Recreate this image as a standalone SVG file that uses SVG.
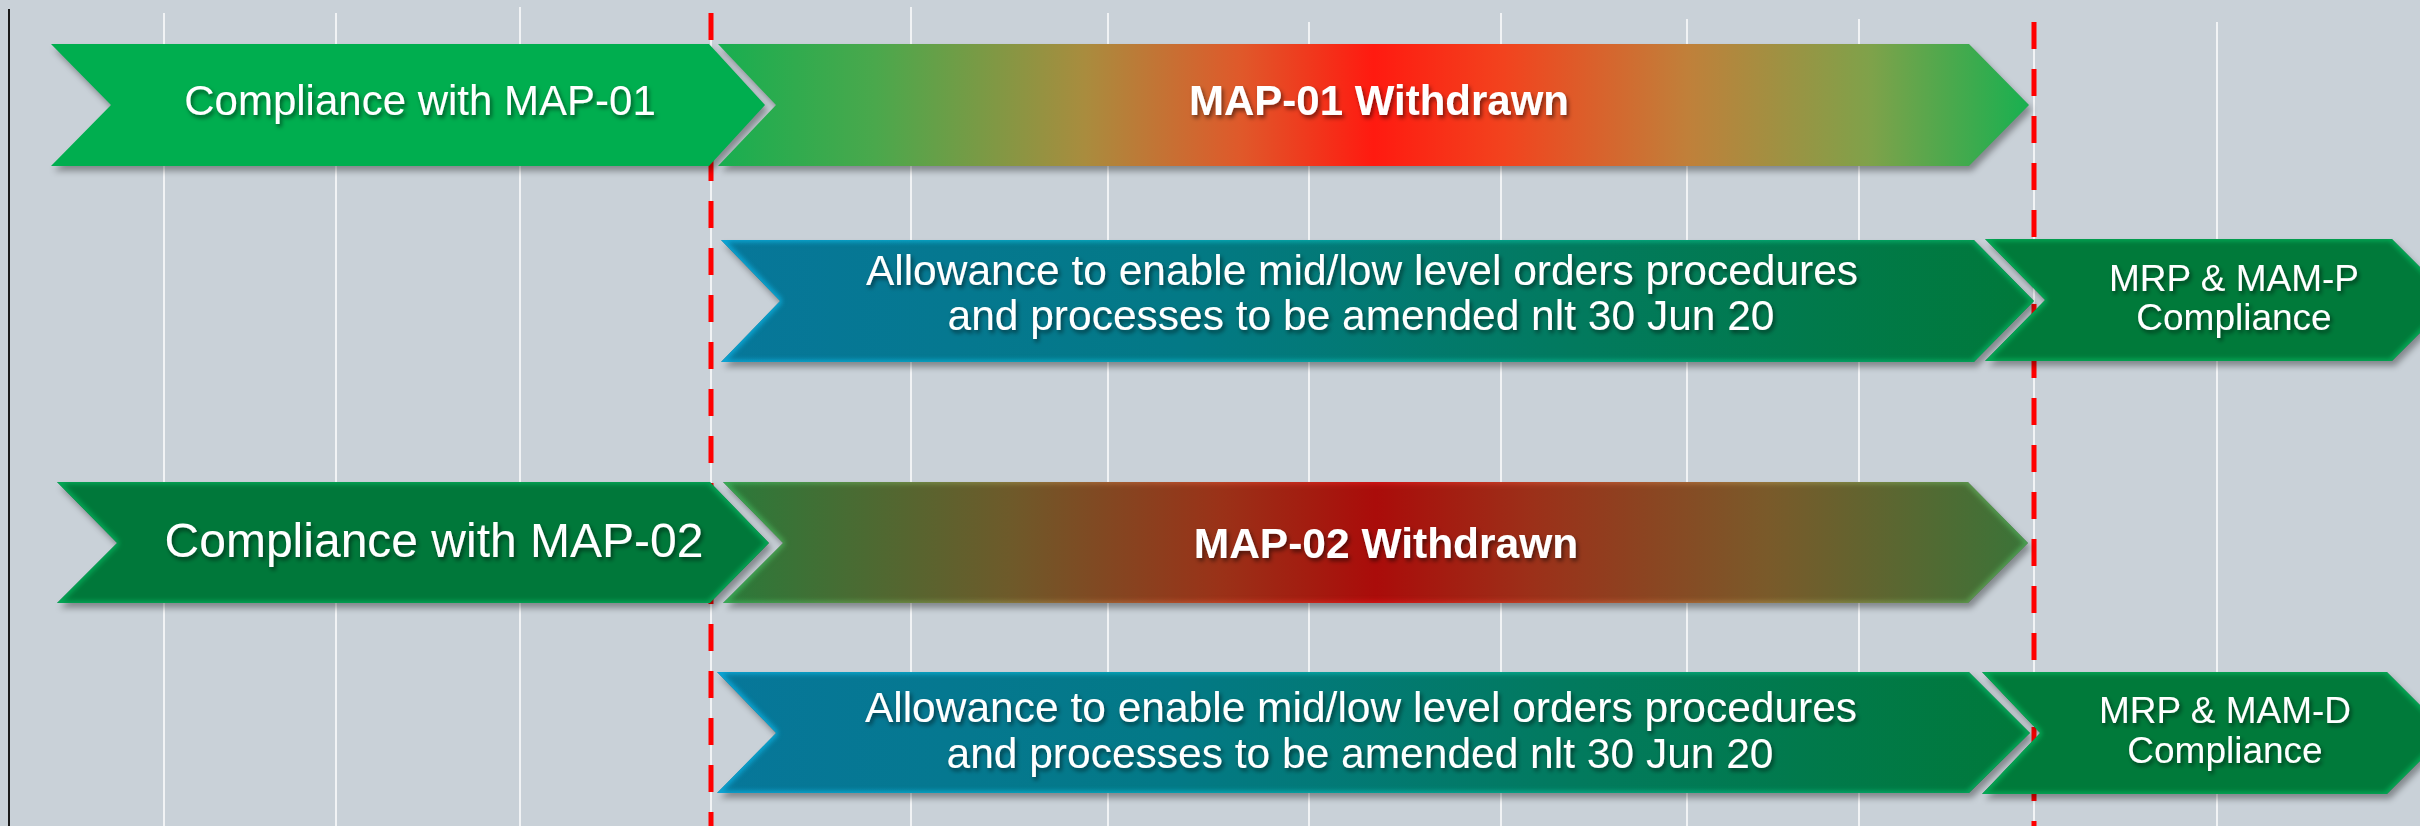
<svg xmlns="http://www.w3.org/2000/svg" width="2420" height="826" viewBox="0 0 2420 826">
  <style>
    .t { font-family: "Liberation Sans", Arial, sans-serif; fill: #ffffff; text-anchor: middle; }
    .b { font-weight: bold; }
    .grid { stroke: #f1f3f5; stroke-width: 2; }
    .red { stroke: #ff0000; stroke-width: 5; stroke-dasharray: 27 20; }
  </style>
  <defs>
    <linearGradient id="gW1" x1="0" y1="0" x2="1" y2="0">
      <stop offset="0" stop-color="#18ae50"/>
      <stop offset="0.12" stop-color="#4aa84c"/>
      <stop offset="0.28" stop-color="#a98c3e"/>
      <stop offset="0.40" stop-color="#e0582a"/>
      <stop offset="0.50" stop-color="#ff1a10"/>
      <stop offset="0.60" stop-color="#f2431e"/>
      <stop offset="0.74" stop-color="#c0803a"/>
      <stop offset="0.88" stop-color="#7ea24a"/>
      <stop offset="1" stop-color="#18b050"/>
    </linearGradient>
    <linearGradient id="gW2" x1="0" y1="0" x2="1" y2="0">
      <stop offset="0" stop-color="#2a7a3a"/>
      <stop offset="0.22" stop-color="#6e5a2a"/>
      <stop offset="0.38" stop-color="#9a3218"/>
      <stop offset="0.50" stop-color="#aa0c0a"/>
      <stop offset="0.62" stop-color="#9c3019"/>
      <stop offset="0.80" stop-color="#7a5a2a"/>
      <stop offset="1" stop-color="#3a7438"/>
    </linearGradient>
    <linearGradient id="gAl" x1="0" y1="0" x2="1" y2="0">
      <stop offset="0" stop-color="#07779a"/>
      <stop offset="0.35" stop-color="#037986"/>
      <stop offset="0.65" stop-color="#027a5e"/>
      <stop offset="1" stop-color="#00793a"/>
    </linearGradient>
    <filter id="sh" x="-3%" y="-15%" width="106%" height="140%" color-interpolation-filters="sRGB">
      <feGaussianBlur in="SourceAlpha" stdDeviation="3" result="sb"/>
      <feOffset in="sb" dx="3" dy="5" result="so"/>
      <feFlood flood-color="#000000" flood-opacity="0.35"/>
      <feComposite in2="so" operator="in" result="shadow"/>
      <feMerge><feMergeNode in="shadow"/><feMergeNode in="SourceGraphic"/></feMerge>
    </filter>
    <filter id="bev" x="-3%" y="-15%" width="106%" height="140%" color-interpolation-filters="sRGB">
      <feGaussianBlur in="SourceAlpha" stdDeviation="3" result="sb"/>
      <feOffset in="sb" dx="3" dy="5" result="so"/>
      <feFlood flood-color="#000000" flood-opacity="0.35"/>
      <feComposite in2="so" operator="in" result="shadow"/>
      <feMorphology in="SourceAlpha" operator="erode" radius="2" result="er"/>
      <feGaussianBlur in="er" stdDeviation="2.5" result="erb"/>
      <feComposite in="SourceAlpha" in2="erb" operator="out" result="ring"/>
      <feComponentTransfer in="SourceGraphic" result="light">
        <feFuncR type="linear" slope="1.3" intercept="0.02"/>
        <feFuncG type="linear" slope="1.45" intercept="0.02"/>
        <feFuncB type="linear" slope="1.4" intercept="0.05"/>
        <feFuncA type="linear" slope="0.8"/>
      </feComponentTransfer>
      <feComposite in="light" in2="ring" operator="in" result="edge"/>
      <feMerge><feMergeNode in="shadow"/><feMergeNode in="SourceGraphic"/><feMergeNode in="edge"/></feMerge>
    </filter>
    <filter id="ts" x="-10%" y="-30%" width="120%" height="170%">
      <feDropShadow dx="2" dy="3" stdDeviation="2" flood-color="#000000" flood-opacity="0.5"/>
    </filter>
  </defs>

  <rect x="0" y="0" width="2420" height="826" fill="#c9d1d8"/>

  <g id="grid">
    <line x1="9" y1="9" x2="9" y2="826" stroke="#1a1a1a" stroke-width="2"/>
    <line class="grid" x1="164" y1="13" x2="164" y2="826"/>
    <line class="grid" x1="336" y1="13" x2="336" y2="826"/>
    <line class="grid" x1="520" y1="7" x2="520" y2="826"/>
    <line class="grid" x1="711" y1="13" x2="711" y2="826"/>
    <line class="grid" x1="911" y1="7" x2="911" y2="826"/>
    <line class="grid" x1="1108" y1="13" x2="1108" y2="826"/>
    <line class="grid" x1="1309" y1="22" x2="1309" y2="826"/>
    <line class="grid" x1="1501" y1="13" x2="1501" y2="826"/>
    <line class="grid" x1="1687" y1="19" x2="1687" y2="826"/>
    <line class="grid" x1="1859" y1="19" x2="1859" y2="826"/>
    <line class="grid" x1="2034" y1="22" x2="2034" y2="826"/>
    <line class="grid" x1="2217" y1="22" x2="2217" y2="826"/>
  </g>

  <g id="connectors">
    <line class="red" x1="711" y1="13" x2="711" y2="826"/>
    <line class="red" x1="2034" y1="22" x2="2034" y2="826"/>
  </g>

  <g id="map01-compliance">
    <polygon points="51,44 709,44 765,105 709,166 51,166 111,105" fill="#00ae4f" filter="url(#sh)"/>
    <text class="t" x="420" y="115" font-size="42" filter="url(#ts)">Compliance with MAP-01</text>
  </g>

  <g id="map01-withdrawn">
    <polygon points="718,44 1969,44 2029,105 1969,166 718,166 776,105" fill="url(#gW1)" filter="url(#sh)"/>
    <text class="t b" x="1379" y="115" font-size="42" filter="url(#ts)">MAP-01 Withdrawn</text>
  </g>

  <g id="allowance-p">
    <polygon points="721,240 1974,240 2034,301 1974,362 721,362 780,301" fill="url(#gAl)" filter="url(#bev)"/>
    <text class="t" x="1362" y="285" font-size="42.5" filter="url(#ts)">Allowance to enable mid/low level orders procedures</text>
    <text class="t" x="1361" y="330" font-size="42.5" filter="url(#ts)">and processes to be amended nlt 30 Jun 20</text>
  </g>

  <g id="mrp-mam-p">
    <polygon points="1985,239 2392,239 2453,300 2392,361 1985,361 2045,300" fill="#007a3a" filter="url(#bev)"/>
    <text class="t" x="2234" y="291" font-size="37" filter="url(#ts)">MRP &amp; MAM-P</text>
    <text class="t" x="2234" y="330" font-size="37" filter="url(#ts)">Compliance</text>
  </g>

  <g id="map02-compliance">
    <polygon points="57,482 710,482 769,543 710,603 57,603 117,543" fill="#00783a" filter="url(#bev)"/>
    <text class="t" x="434" y="557" font-size="48" filter="url(#ts)">Compliance with MAP-02</text>
  </g>

  <g id="map02-withdrawn">
    <polygon points="723,482 1968,482 2028,543 1968,603 723,603 783,543" fill="url(#gW2)" filter="url(#bev)"/>
    <text class="t b" x="1386" y="558" font-size="42.5" filter="url(#ts)">MAP-02 Withdrawn</text>
  </g>

  <g id="allowance-d">
    <polygon points="717,672 1969,672 2030,733 1969,793 717,793 776,733" fill="url(#gAl)" filter="url(#bev)"/>
    <text class="t" x="1361" y="722" font-size="42.5" filter="url(#ts)">Allowance to enable mid/low level orders procedures</text>
    <text class="t" x="1360" y="768" font-size="42.5" filter="url(#ts)">and processes to be amended nlt 30 Jun 20</text>
  </g>

  <g id="mrp-mam-d">
    <polygon points="1982,672 2387,672 2448,733 2387,794 1982,794 2040,733" fill="#007a3a" filter="url(#bev)"/>
    <text class="t" x="2225" y="723" font-size="37" filter="url(#ts)">MRP &amp; MAM-D</text>
    <text class="t" x="2225" y="763" font-size="37" filter="url(#ts)">Compliance</text>
  </g>
</svg>
